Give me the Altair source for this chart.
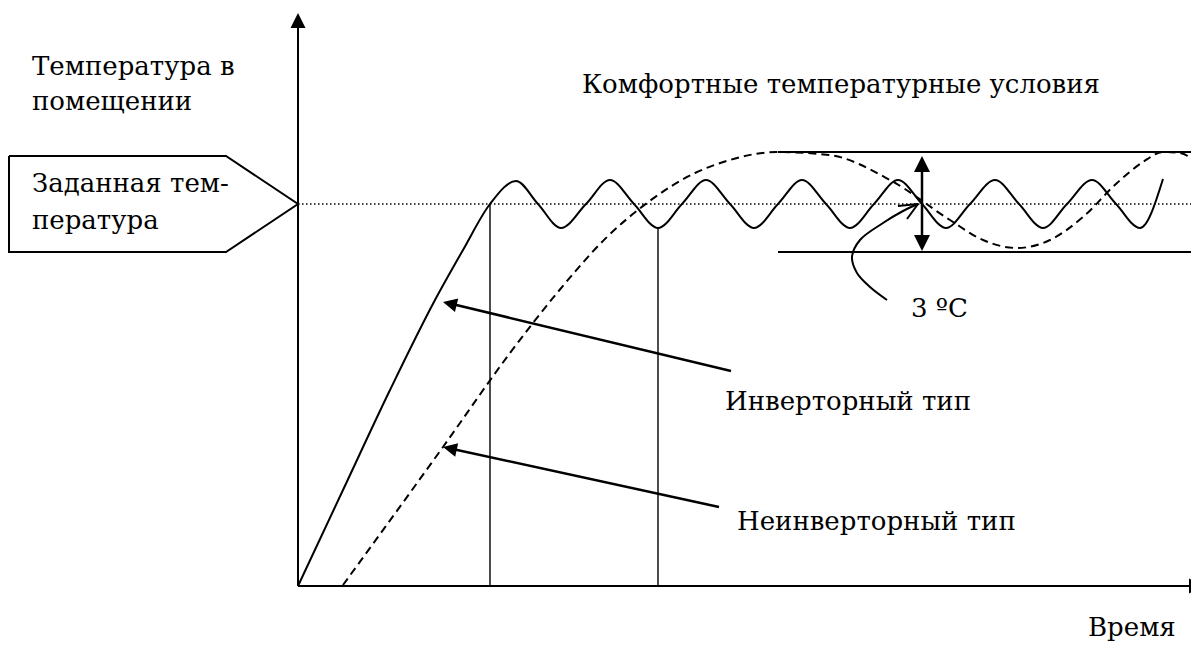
import math
import altair as alt
import pandas as pd

# Coordinate system: t = time (px to the right of the origin), T = room temperature (px above origin)

# Inverter-type curve (solid): rise, then small oscillation around the set temperature
inv_t = [0, 45, 92, 137, 165, 192, 218, 240, 263, 288, 312, 336, 360, 384, 408, 432, 456, 480,
         504, 528, 552, 576, 600, 624, 648, 672, 697, 721, 745, 769, 794, 818, 842, 865]
inv_T = [0, 96, 196, 286, 336, 382, 405, 382, 358, 382, 406, 382, 358, 382, 406, 382, 358, 382,
         406, 382, 358, 382, 406, 382, 358, 382, 406, 382, 358, 382, 406, 382, 358, 407]

# Non-inverter curve (dashed): slower rise, large overshoot
non_t = [45, 145, 212, 259, 309, 349, 397, 432, 478, 531, 592, 652, 685, 719, 752, 785, 819, 845, 865, 882, 899]
non_T = [1, 139, 233, 293, 349, 383, 413, 426, 434, 431, 406, 366, 346, 338, 346, 369, 403, 424, 434, 433, 423]

# Set temperature and comfort band
set_T = 382
band_top = 434
band_bottom = 334
band_start = 480
right_end = 901

# Solid straight segments: (t, T, t2, T2)
axis_segs = [(0, 0, 0, 565), (0, 0, right_end, 0)]
guide_segs = [(192, 0, 192, 382), (360, 0, 360, 358)]
band_segs = [(band_start, band_top, right_end, band_top), (band_start, band_bottom, right_end, band_bottom)]
shaft_segs = [(433, 215, 150, 283), (421, 79, 150, 138), (624, 342, 624, 423)]
open_head_segs = [(620, 382, 600, 380), (620, 382, 609, 367)]

# Arrowheads: tip (t, T), direction (dt, dT), length
head_t = [0, 906, 624, 624, 145, 145]
head_T = [573, 0, 430, 335, 284, 139]
head_dt = [0, 1, 0, 0, -288, -276]
head_dT = [1, 0, 1, -1, 69, 60]
head_len = [15, 15, 16, 16, 14, 14]

# Pentagon label box for the set temperature
box_t = [-289, -72, 0, -72, -289, -289]
box_T = [430, 430, 382, 334, 334, 430]

# Curved pointer for "3 ºC"
curve_t = [589, 572, 559, 554, 562, 585, 605, 620]
curve_T = [286, 299, 313, 329, 346, 363, 375, 382]

# Texts
labels = ["Температура в", "помещении", "Заданная тем-", "пература",
          "Комфортные температурные условия", "3 ºC", "Инверторный тип",
          "Неинверторный тип", "Время"]
label_t = [-266, -266, -266, -266, 284, 613, 427, 439, 790]
label_T = [511, 476, 394, 357, 493, 269, 176, 56, -50]

W, H = 1183, 636
xs = alt.Scale(domain=[-290, 893], nice=False, zero=False)
ys = alt.Scale(domain=[-58, 578], nice=False, zero=False)


def X(f="t"):
    return alt.X(f"{f}:Q", scale=xs, axis=None)


def Y(f="T"):
    return alt.Y(f"{f}:Q", scale=ys, axis=None)


def segs_df(segs):
    return pd.DataFrame(segs, columns=["t", "T", "t2", "T2"])


def rules(segs, **kw):
    return alt.Chart(segs_df(segs)).mark_rule(color="black", **kw).encode(
        x=X(), y=Y(), x2="t2:Q", y2="T2:Q")


inv_df = pd.DataFrame({"t": inv_t, "T": inv_T})
non_df = pd.DataFrame({"t": non_t, "T": non_T})
box_df = pd.DataFrame({"t": box_t, "T": box_T, "o": list(range(len(box_t)))})
curve_df = pd.DataFrame({"t": curve_t, "T": curve_T, "o": list(range(len(curve_t)))})
heads_df = pd.DataFrame({
    "t": head_t, "T": head_T,
    "ang": [math.degrees(math.atan2(a, b)) % 360 for a, b in zip(head_dt, head_dT)],
    "sz": [l * l for l in head_len],
})
text_df = pd.DataFrame({"t": label_t, "T": label_T, "label": labels})

dotted = rules([(0, set_T, right_end, set_T)], strokeWidth=1.3, strokeDash=[1.5, 2.5])
axes = rules(axis_segs, strokeWidth=2)
guides = rules(guide_segs, strokeWidth=1.4)
band = rules(band_segs, strokeWidth=2)
shafts = rules(shaft_segs, strokeWidth=2.5)
open_heads = rules(open_head_segs, strokeWidth=2)

inv_line = alt.Chart(inv_df).mark_line(color="black", strokeWidth=2, interpolate="monotone").encode(
    x=X(), y=Y())
non_line = alt.Chart(non_df).mark_line(color="black", strokeWidth=2, strokeDash=[8, 5],
                                       interpolate="monotone").encode(x=X(), y=Y())
box = alt.Chart(box_df).mark_line(color="black", strokeWidth=2).encode(x=X(), y=Y(), order="o:Q")
curve = alt.Chart(curve_df).mark_line(color="black", strokeWidth=2, interpolate="catmull-rom").encode(
    x=X(), y=Y(), order="o:Q")
heads = alt.Chart(heads_df).mark_point(
    shape="M0,0L-1,2L1,2Z", filled=True, color="black", opacity=1, strokeWidth=0
).encode(x=X(), y=Y(), angle=alt.Angle("ang:Q", scale=None), size=alt.Size("sz:Q", scale=None))
texts = alt.Chart(text_df).mark_text(
    align="left", baseline="alphabetic", font="DejaVu Serif",
    fontSize=26, color="black"
).encode(x=X(), y=Y(), text="label:N")

chart = alt.layer(
    dotted, guides, band, axes, box, non_line, inv_line, curve, shafts, open_heads, heads, texts
).properties(
    width=W, height=H, padding=0, autosize=alt.AutoSizeParams(type="none"), background="white"
).configure_view(stroke=None)

chart.save("out.html", embed_options={"renderer": "svg", "actions": False})
